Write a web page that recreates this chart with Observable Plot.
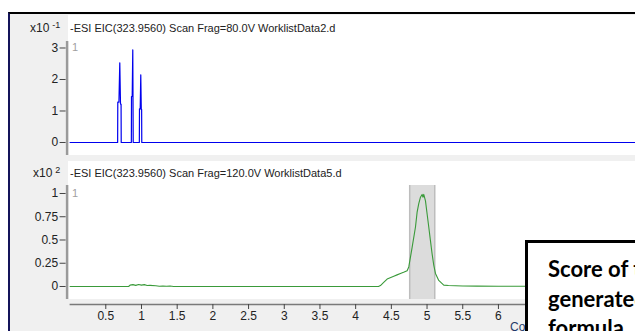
<!DOCTYPE html>
<html>
<head>
<meta charset="utf-8">
<script src="https://cdn.jsdelivr.net/npm/d3@7"></script>
<script src="https://cdn.jsdelivr.net/npm/@observablehq/plot@0.6"></script>
<style>
  html, body { margin: 0; padding: 0; background: #fff; }
  #root { position: relative; width: 635px; height: 331px; overflow: hidden; background: #fff; font-family: "Liberation Sans", Arial, sans-serif; }
  .abs { position: absolute; }
  .lbl { position: absolute; white-space: nowrap; color: #222; }
</style>
</head>
<body>
<div id="root">
  <div class="abs" style="left:8px;top:12px;width:700px;height:400px;background:#f0f0f0;border-top:2px solid #000;border-left:2px solid #14145a;"></div>
  <div class="abs" style="left:68px;top:15px;width:600px;height:140px;background:#fff;"></div>
  <div class="abs" style="left:68px;top:161px;width:600px;height:138px;background:#fff;"></div>
  <div id="top" class="abs" style="left:0;top:0;"></div>
  <div id="bottom" class="abs" style="left:0;top:160px;"></div>
  <div class="lbl" style="left:30px;top:20px;font-size:12px;line-height:16px;">x10<span style="font-size:9px;position:relative;top:-4px;margin-left:3px;">-1</span></div>
  <div class="lbl" style="left:70px;top:21px;font-size:11px;line-height:14px;">-ESI EIC(323.9560) Scan Frag=80.0V WorklistData2.d</div>
  <div class="lbl" style="left:72px;top:40px;font-size:11px;line-height:14px;color:#a0a0a0;">1</div>
  <div class="lbl" style="left:33px;top:165px;font-size:12px;line-height:16px;">x10<span style="font-size:9px;position:relative;top:-4px;margin-left:3px;">2</span></div>
  <div class="lbl" style="left:70px;top:166px;font-size:11px;line-height:14px;">-ESI EIC(323.9560) Scan Frag=120.0V WorklistData5.d</div>
  <div class="lbl" style="left:72px;top:186px;font-size:11px;line-height:14px;color:#a0a0a0;">1</div>
  <div class="lbl" style="left:510px;top:319px;width:16px;overflow:hidden;font-size:12px;line-height:16px;color:#1f3a68;">Counts vs. Acquisition Time (min)</div>
  <div class="abs" style="left:525px;top:240px;width:200px;height:200px;background:#fff;border:3px solid #000;box-sizing:border-box;padding:11px 0 0 20px;font-family:Lato, 'Open Sans', sans-serif;font-weight:bold;font-size:22px;line-height:29.5px;color:#000;white-space:nowrap;">Score of the<br>generated<br>formula</div>
</div>
<script>
// Top trace (x10^-1 counts)
const topTime  = [0, 0.666, 0.668, 0.684, 0.696, 0.706, 0.714, 0.716, 0.858, 0.860, 0.870, 0.878, 0.884, 0.970, 0.972, 0.982, 0.990, 0.997, 1.002, 1.004, 7.92];
const topValue = [0, 0,     1.28,  1.28,  2.53,  1.22,  1.22,  0,     0,     1.46,  1.46,  2.94,  0,     0,     1.07,  1.07,  2.15,  1.05,  1.05,  0,     0];

// Bottom trace (x10^2 counts)
const botTime  = [0, 0.82, 0.84, 0.88, 0.92, 0.96, 1.00, 1.04, 1.08, 1.12, 1.20, 1.25, 1.30, 1.35, 1.40, 1.45, 4.32, 4.347, 4.40, 4.441, 4.534, 4.58, 4.627, 4.68, 4.721, 4.744, 4.791, 4.838, 4.861, 4.884, 4.908, 4.931, 4.942, 4.954, 4.978, 5.001, 5.024, 5.048, 5.071, 5.094, 5.118, 5.164, 5.234, 5.30, 5.40, 5.50, 5.70, 6.00, 6.50, 7.92];
const botValue = [0, 0,    0.015, 0.02, 0.012, 0.022, 0.015, 0.02, 0.01, 0.012, 0.008, 0.003, 0.006, 0.002, 0.005, 0, 0,   0.01,  0.05, 0.08,  0.11,  0.125, 0.14, 0.155, 0.17, 0.21,  0.42,  0.64,  0.80,  0.89,  0.96,  0.99,  0.96,  0.99,  0.92,  0.78,  0.64,  0.49,  0.35,  0.23,  0.14,  0.065, 0.015, 0.01, 0.008, 0.006, 0.004, 0.003, 0.002, 0];

// Highlighted window
const shadeStart = [4.757];
const shadeEnd   = [5.108];

// Axis ticks (ticks beyond 6 lie under the overlaid box)
const topTicks = [0, 1, 2, 3];
const botTicks = [0, 0.25, 0.5, 0.75, 1];
const xTicks   = [0.5, 1, 1.5, 2, 2.5, 3, 3.5, 4, 4.5, 5, 5.5, 6];

const xDomain = [0, 7.92];
const topDomain = [-0.4127, 3.206];
const botDomain = [-0.1398, 1.086];

const topData = topTime.map((t, i) => ({t, v: topValue[i]}));
const botData = botTime.map((t, i) => ({t, v: botValue[i]}));
const shadeData = shadeStart.map((s, i) => ({s, e: shadeEnd[i]}));

const font = {fontFamily: "'Liberation Sans', Arial, sans-serif", fontSize: "12px", background: "transparent", overflow: "visible", color: "#222"};

const topPlot = Plot.plot({
  width: 635, height: 160,
  marginLeft: 69.6, marginRight: 0, marginTop: 41, marginBottom: 5,
  style: font,
  x: {domain: xDomain, axis: null},
  y: {domain: topDomain, axis: null},
  marks: [
    Plot.ruleX([0], {dx: -3, stroke: "#9a9a9a", strokeWidth: 2.5}),
    Plot.axisY({ticks: topTicks, tickFormat: d => String(d), label: null, tickSize: 6, tickPadding: 2, dx: -4, stroke: "#444", fill: "#222"}),
    Plot.line(topData, {x: "t", y: "v", stroke: "#0000ee", strokeWidth: 1.2})
  ]
});
document.getElementById("top").appendChild(topPlot);

const botPlot = Plot.plot({
  width: 635, height: 171,
  marginLeft: 69.6, marginRight: 0, marginTop: 25, marginBottom: 32,
  style: font,
  x: {domain: xDomain, axis: null},
  y: {domain: botDomain, axis: null},
  marks: [
    Plot.rect(shadeData, {x1: "s", x2: "e", fill: "#dcdcdc"}),
    Plot.ruleX(shadeData, {x: "s", stroke: "#bdbdbd", strokeWidth: 1.5}),
    Plot.ruleX(shadeData, {x: "e", stroke: "#bdbdbd", strokeWidth: 1.5}),
    Plot.ruleX([0], {dx: -3, stroke: "#9a9a9a", strokeWidth: 2.5}),
    Plot.axisY({ticks: botTicks, tickFormat: d => String(d), label: null, tickSize: 6, tickPadding: 2, dx: -4, stroke: "#444", fill: "#222"}),
    Plot.ruleY([botDomain[0]], {dy: 5, stroke: "#7a7a7a", strokeWidth: 1.5}),
    Plot.axisX({ticks: xTicks, tickFormat: d => String(d), label: null, tickSize: 5, tickPadding: 2, dy: 5, stroke: "#444", fill: "#222"}),
    Plot.line(botData, {x: "t", y: "v", stroke: "#3a9a3a", strokeWidth: 1.1})
  ]
});
document.getElementById("bottom").appendChild(botPlot);
</script>
</body>
</html>
